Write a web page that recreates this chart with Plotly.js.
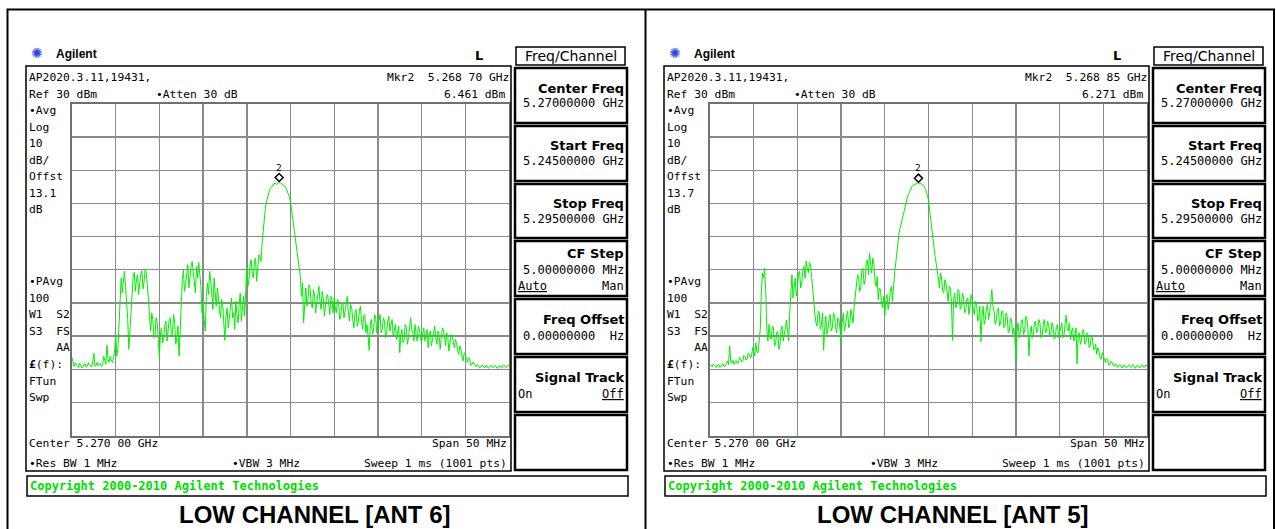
<!DOCTYPE html>
<html>
<head>
<meta charset="utf-8">
<script src="https://cdn.plot.ly/plotly-3.0.1.min.js"></script>
<style>html,body{margin:0;padding:0;background:#fff;}#chart{width:1276px;height:529px;}</style>
</head>
<body>
<div id="chart"></div>
<script>
// ---------- DATA ----------
const START_GHZ = 5.245;          // start frequency
const STOP_GHZ = 5.295;           // stop frequency
const STEP_MHZ = 0.125;           // sampling step of the read-off values
const REF_DBM = 30;               // reference level (top of screen)
const BOTTOM_DBM = -70;           // bottom of screen (10 dB/div, 10 div)

const panelTitles = ["LOW CHANNEL [ANT 6]", "LOW CHANNEL [ANT 5]"];
const offsets = ["13.1", "13.7"];
const markerFreqGHz = [5.26870, 5.26885];
const markerLevelDbm = [6.461, 6.271];
const markerFreqText = ["5.268\u00a070\u00a0GHz", "5.268\u00a085\u00a0GHz"];
const markerLevelText = ["6.461\u00a0dBm", "6.271\u00a0dBm"];

// ANT 6 trace, dBm, every 0.125 MHz from 5.245 GHz
const ant6_dBm = [
 -46.5,-48.3,-49.2,-48.1,-48.6,-49.0,-49.5,-48.2,-48.9,-49.6,-49.3,-48.5,-48.4,-49.4,-49.1,-48.0,-48.7,-49.2,-49.4,-47.8,
 -45.2,-49.1,-48.8,-47.9,-49.0,-48.4,-48.3,-49.2,-48.9,-46.0,-47.6,-48.5,-42.8,-47.0,-47.9,-46.1,-47.2,-48.0,-46.8,-44.5,
 -39.5,-46.0,-44.0,-36.0,-31.5,-22.5,-27.0,-24.0,-20.5,-25.0,-28.8,-35.0,-44.0,-38.0,-30.5,-25.5,-22.0,-20.8,-26.5,-23.0,
 -21.5,-27.5,-24.8,-21.0,-20.3,-25.8,-23.5,-19.8,-21.0,-24.0,-29.0,-34.0,-38.5,-33.0,-35.0,-40.5,-39.5,-34.5,-36.0,-41.0,
 -46.5,-39.0,-37.5,-42.0,-40.5,-36.5,-35.5,-41.5,-38.0,-35.0,-34.5,-40.0,-39.0,-33.5,-36.0,-42.5,-40.5,-37.0,-46.0,-39.0,
 -28.5,-23.0,-20.2,-26.5,-24.5,-20.0,-18.5,-25.5,-22.0,-18.8,-17.5,-21.5,-23.5,-27.0,-19.0,-22.5,-17.8,-21.0,-25.0,-33.0,
 -30.0,-35.0,-38.5,-28.0,-24.0,-27.5,-20.5,-23.5,-27.0,-32.0,-22.5,-26.0,-31.0,-25.5,-28.0,-32.5,-34.5,-29.0,-30.5,-36.5,
 -41.3,-34.0,-31.5,-37.5,-35.0,-31.0,-28.5,-34.5,-33.0,-38.0,-29.5,-33.5,-36.0,-30.5,-27.0,-35.5,-31.5,-28.0,-34.0,-26.0,
 -19.5,-25.0,-23.0,-18.5,-17.0,-21.5,-22.5,-17.5,-16.5,-23.5,-20.5,-15.5,-16.0,-17.5,-12.0,-8.0,-3.5,-1.5,0.5,2.0,
 3.2,4.2,4.8,5.0,5.6,5.8,6.2,5.7,5.9,6.3,6.46,6.1,6.0,5.6,5.5,5.2,4.6,3.9,2.8,1.8,
 0.5,-2.0,-4.5,-6.8,-9.0,-11.0,-13.5,-16.0,-18.5,-22.0,-28.0,-24.0,-36.0,-29.5,-25.5,-31.0,-29.0,-24.5,-26.0,-30.5,
 -31.5,-26.0,-27.5,-33.0,-30.0,-27.0,-25.0,-29.5,-32.0,-26.5,-28.5,-34.0,-31.0,-28.0,-27.5,-31.5,-33.5,-28.0,-29.0,-33.0,
 -28.5,-31.5,-33.0,-29.0,-29.5,-35.0,-34.0,-30.5,-30.0,-34.5,-32.5,-29.5,-28.0,-33.0,-35.5,-30.5,-31.5,-35.0,-37.5,-33.0,
 -32.0,-37.0,-36.0,-32.5,-31.0,-35.5,-38.0,-34.0,-33.5,-39.0,-36.5,-40.0,-44.3,-36.5,-35.0,-39.5,-38.5,-33.5,-34.5,-39.0,
 -37.5,-35.5,-33.5,-39.0,-38.0,-34.5,-35.5,-40.5,-39.0,-35.5,-34.0,-38.5,-37.0,-35.0,-40.0,-37.5,-36.5,-41.0,-39.5,-37.0,
 -45.0,-39.5,-38.0,-42.0,-41.0,-36.5,-37.5,-42.5,-40.5,-37.0,-34.5,-38.0,-39.0,-41.5,-36.5,-39.5,-41.5,-37.0,-38.0,-40.5,
 -42.0,-39.0,-37.5,-41.5,-40.0,-38.0,-43.5,-39.5,-38.5,-43.0,-41.0,-38.0,-37.0,-40.5,-42.5,-38.5,-39.5,-44.0,-41.0,-37.5,
 -38.0,-41.5,-43.0,-39.0,-40.5,-44.5,-42.0,-39.5,-40.0,-42.5,-43.5,-41.0,-42.0,-44.5,-45.5,-43.0,-44.0,-46.5,-47.5,-45.0,
 -45.5,-47.0,-48.0,-46.5,-47.0,-48.9,-48.6,-47.8,-48.2,-48.9,-49.3,-48.5,-48.8,-49.6,-49.4,-48.7,-49.0,-49.5,-49.6,-48.8,
 -49.1,-49.7,-49.5,-48.9,-48.9,-49.5,-49.4,-48.8,-49.2,-49.7,-49.6,-49.0,-49.0,-49.6,-49.4,-48.7,-48.9,-49.5,-49.3,-48.8,
 -49.1
];

// ANT 5 trace, dBm, every 0.125 MHz from 5.245 GHz
const ant5_dBm = [
 -48.5,-49.0,-49.3,-48.4,-48.8,-49.4,-49.5,-48.7,-48.6,-49.5,-49.2,-48.5,-48.4,-49.3,-49.0,-48.2,-47.5,-48.6,-43.0,-47.8,
 -48.2,-47.3,-48.6,-47.9,-47.4,-48.3,-48.0,-46.5,-46.8,-47.8,-47.5,-45.8,-46.2,-47.2,-46.9,-45.2,-45.5,-46.6,-46.0,-43.5,
 -44.5,-46.0,-42.0,-44.8,-45.0,-41.0,-38.0,-27.0,-21.0,-22.5,-19.6,-26.5,-38.0,-41.5,-36.5,-40.0,-41.0,-37.0,-37.5,-43.0,
 -42.5,-39.0,-38.5,-44.0,-43.0,-38.0,-37.0,-41.5,-40.0,-37.5,-35.2,-39.0,-41.5,-33.0,-25.0,-21.5,-28.5,-24.0,-22.5,-28.0,
 -26.0,-21.0,-20.5,-25.5,-24.0,-20.0,-19.0,-22.5,-17.4,-19.5,-21.0,-17.8,-18.5,-22.0,-26.5,-30.0,-33.4,-36.0,-37.0,-32.5,
 -33.0,-38.0,-36.5,-33.0,-44.3,-37.5,-34.0,-39.5,-38.0,-34.5,-33.5,-38.5,-37.5,-33.0,-34.0,-37.5,-39.0,-34.5,-35.0,-38.0,
 -42.0,-36.0,-33.0,-38.5,-37.0,-34.0,-32.5,-37.5,-36.5,-32.0,-33.5,-36.0,-31.0,-27.5,-26.0,-21.5,-22.0,-26.5,-25.5,-20.0,
 -19.5,-24.5,-23.0,-18.0,-17.0,-21.5,-15.0,-19.0,-21.0,-16.5,-18.5,-23.5,-25.0,-22.0,-29.0,-25.5,-26.0,-30.0,-31.5,-28.0,
 -33.9,-29.0,-27.5,-32.0,-30.0,-26.5,-25.0,-29.5,-24.0,-21.0,-18.0,-14.5,-11.0,-9.0,-7.5,-6.0,-5.0,-3.2,-1.5,0.0,
 1.5,2.3,3.0,3.8,4.5,5.1,5.5,5.6,5.9,6.0,6.1,5.8,6.27,6.0,5.7,5.5,5.2,4.5,3.6,2.4,
 1.0,-2.0,-5.0,-8.0,-11.5,-14.0,-16.0,-18.0,-20.0,-22.5,-25.5,-21.0,-22.5,-26.5,-27.0,-23.0,-24.0,-28.0,-29.5,-25.0,
 -25.5,-30.0,-41.3,-29.0,-27.0,-31.5,-30.5,-26.0,-26.5,-32.0,-31.0,-27.0,-28.0,-33.0,-32.5,-29.0,-28.5,-33.5,-31.5,-27.5,
 -29.0,-32.0,-33.5,-29.5,-30.0,-35.5,-34.5,-31.0,-41.7,-34.0,-31.0,-36.5,-35.0,-31.5,-30.5,-35.0,-33.0,-29.5,-26.0,-31.0,
 -32.5,-36.5,-35.5,-32.0,-31.5,-37.0,-36.0,-32.5,-32.5,-37.5,-37.0,-33.0,-34.0,-39.0,-38.5,-34.5,-35.0,-39.5,-37.5,-40.0,
 -47.7,-38.5,-36.0,-40.5,-39.0,-35.5,-35.0,-39.5,-38.5,-34.0,-34.5,-38.0,-46.0,-39.0,-37.0,-40.5,-39.5,-36.0,-35.5,-39.0,
 -38.0,-35.0,-36.0,-40.5,-40.0,-36.5,-35.0,-39.0,-38.5,-35.5,-36.5,-40.0,-39.5,-36.0,-37.0,-41.0,-40.5,-37.5,-36.5,-40.5,
 -39.0,-37.0,-36.0,-40.5,-40.0,-36.5,-33.7,-38.0,-38.5,-36.0,-41.0,-38.5,-37.5,-41.5,-40.5,-37.5,-48.4,-40.0,-39.0,-42.5,
 -41.5,-38.5,-38.0,-42.5,-42.0,-39.0,-39.5,-43.5,-43.0,-40.0,-40.5,-44.0,-44.0,-42.5,-45.5,-43.5,-44.5,-46.5,-47.0,-45.0,
 -46.0,-47.5,-48.0,-46.8,-47.2,-48.8,-48.5,-47.6,-48.0,-48.9,-49.2,-48.4,-48.6,-49.5,-49.3,-48.6,-48.8,-49.6,-49.5,-48.7,
 -49.0,-49.6,-49.4,-48.8,-48.7,-49.5,-49.3,-48.6,-49.0,-49.7,-49.5,-48.9,-48.9,-49.6,-49.4,-48.7,-48.8,-49.5,-49.3,-48.7,
 -49.0
];

// ---------- LAYOUT HELPERS ----------
const W = 1276, H = 529;
const PX = x => x / W;
const PY = y => 1 - y / H;
const DX = [0, 638];                 // horizontal offset of each panel
const GRID = {x0: 72, x1: 509, y0: 104, y1: 435.5};
const MONO = "DejaVu Sans Mono";
const SANS = "DejaVu Sans";

const freqGHz = ant6_dBm.map((_, i) => START_GHZ + i * STEP_MHZ / 1000);
const series = [ant6_dBm, ant5_dBm];

const traces = [];
const shapes = [];
const annotations = [];

function rect(x0, y0, x1, y1, w, col) {
  shapes.push({type: 'rect', xref: 'paper', yref: 'paper', x0: PX(x0), x1: PX(x1), y0: PY(y1), y1: PY(y0),
    line: {color: col || '#000', width: w}, fillcolor: 'rgba(0,0,0,0)', layer: 'above'});
}
function line(x0, y0, x1, y1, w, col) {
  shapes.push({type: 'line', xref: 'paper', yref: 'paper', x0: PX(x0), x1: PX(x1), y0: PY(y0), y1: PY(y1),
    line: {color: col || '#000', width: w}, layer: 'above'});
}
function txt(x, y, text, o) {
  o = o || {};
  annotations.push({xref: 'paper', yref: 'paper', x: PX(x), y: PY(y), text: text, showarrow: false,
    xanchor: o.anchor || 'left', yanchor: 'middle', borderpad: 0,
    font: {family: o.family || MONO, size: o.size || 11.3, color: o.color || '#000', weight: o.weight || 'normal'}});
}

const layout = {
  width: W, height: H, margin: {l: 0, r: 0, t: 0, b: 0},
  paper_bgcolor: '#fff', plot_bgcolor: '#fff', showlegend: false,
  shapes: shapes, annotations: annotations
};

// outer frame + divider
rect(7.5, 9.5, 1274, 545, 2);
line(645.5, 9.5, 645.5, 529, 2);

const sp = '\u00a0';
for (let p = 0; p < 2; p++) {
  const dx = DX[p];
  const xa = p === 0 ? 'xaxis' : 'xaxis2';
  const ya = p === 0 ? 'yaxis' : 'yaxis2';
  const xr = p === 0 ? 'x' : 'x2';
  const yr = p === 0 ? 'y' : 'y2';
  layout[xa] = {domain: [PX(GRID.x0 + dx), PX(GRID.x1 + dx)], anchor: yr,
    range: [START_GHZ, STOP_GHZ], tick0: START_GHZ, dtick: 0.005, showticklabels: false, ticks: '',
    showgrid: true, gridcolor: '#8a8a8a', gridwidth: 1.4, zeroline: false,
    showline: true, mirror: true, linecolor: '#707070', linewidth: 2, fixedrange: true};
  layout[ya] = {domain: [PY(GRID.y1), PY(GRID.y0)], anchor: xr,
    range: [BOTTOM_DBM, REF_DBM], tick0: BOTTOM_DBM, dtick: 10, showticklabels: false, ticks: '',
    showgrid: true, gridcolor: '#8a8a8a', gridwidth: 1.4, zeroline: false,
    showline: true, mirror: true, linecolor: '#707070', linewidth: 2, fixedrange: true};

  traces.push({x: freqGHz, y: series[p], xaxis: xr, yaxis: yr, type: 'scatter', mode: 'lines',
    line: {color: '#00ee00', width: 1}, hoverinfo: 'skip'});

  // marker diamond (drawn just above the trace point) and its number
  shapes.push({type: 'path', xref: xr, yref: yr, xsizemode: 'pixel', ysizemode: 'pixel',
    xanchor: markerFreqGHz[p], yanchor: markerLevelDbm[p],
    path: 'M0,0.5 L4,4.5 L0,8.5 L-4,4.5 Z', line: {color: '#000', width: 1.5}, fillcolor: '#fff', layer: 'above'});
  annotations.push({xref: xr, yref: yr, x: markerFreqGHz[p], y: markerLevelDbm[p], yshift: 15,
    text: '2', showarrow: false, font: {family: MONO, size: 9.5, color: '#000'}});

  // boxes
  rect(26 + dx, 66, 511 + dx, 471, 1.5);
  rect(516 + dx, 47, 625 + dx, 65, 1.5);
  [[68,123],[126,181],[184,238],[241,296],[299,354],[357,412],[415,470]].forEach(b => rect(515 + dx, b[0], 627 + dx, b[1], 2.5));
  rect(27 + dx, 476, 628 + dx, 496, 1.5);

  // header
  txt(37 + dx, 53, '\u273a', {family: SANS, size: 14, color: '#3347d8', anchor: 'center'});
  txt(55 + dx, 54, 'Agilent', {family: 'Liberation Sans', size: 12, weight: 'bold'});
  txt(479 + dx, 55, 'L', {family: SANS, size: 13, weight: 'bold', anchor: 'center'});

  // screen text
  txt(28 + dx, 77, 'AP2020.3.11,19431,');
  txt(28 + dx, 94, 'Ref' + sp + '30' + sp + 'dBm');
  txt(155 + dx, 94, '\u2022Atten' + sp + '30' + sp + 'dB');
  txt(510 + dx, 77, 'Mkr2' + sp + sp + markerFreqText[p], {anchor: 'right'});
  txt(506 + dx, 94, markerLevelText[p], {anchor: 'right'});
  const colA = ['\u2022Avg', 'Log', '10', 'dB/', 'Offst', offsets[p], 'dB'];
  colA.forEach((t, i) => txt(28 + dx, 110.5 + i * 16.55, t));
  const colB = ['\u2022PAvg', '100', 'W1' + sp + sp + 'S2', 'S3' + sp + sp + 'FS', sp + sp + sp + sp + 'AA', '<b>\u00a3</b>(f):', 'FTun', 'Swp'];
  colB.forEach((t, i) => txt(28 + dx, 281.5 + i * 16.6, t));
  txt(28 + dx, 443, 'Center' + sp + '5.270' + sp + '00' + sp + 'GHz');
  txt(508 + dx, 443, 'Span' + sp + '50' + sp + 'MHz', {anchor: 'right'});
  txt(28 + dx, 463, '\u2022Res' + sp + 'BW' + sp + '1' + sp + 'MHz');
  txt(231 + dx, 463, '\u2022VBW' + sp + '3' + sp + 'MHz');
  txt(508 + dx, 463, 'Sweep' + sp + '1' + sp + 'ms' + sp + '(1001' + sp + 'pts)', {anchor: 'right'});
  txt(29 + dx, 486, 'Copyright 2000-2010 Agilent Technologies', {size: 12, color: '#00dd00', weight: 'bold'});

  // softkeys
  txt(570.5 + dx, 55.5, 'Freq/Channel', {family: SANS, size: 14, anchor: 'center'});
  const sk = [
    ['Center' + sp + 'Freq', 88, '5.27000000' + sp + 'GHz', 103],
    ['Start' + sp + 'Freq', 146, '5.24500000' + sp + 'GHz', 161],
    ['Stop' + sp + 'Freq', 203.5, '5.29500000' + sp + 'GHz', 219],
    ['CF' + sp + 'Step', 253.5, '5.00000000' + sp + 'MHz', 270],
    ['Freq' + sp + 'Offset', 319.5, '0.00000000' + sp + sp + 'Hz', 336],
    ['Signal' + sp + 'Track', 377, '', 0]
  ];
  sk.forEach(s => {
    txt(625 + dx, s[1], s[0], {family: SANS, size: 13, weight: 'bold', anchor: 'right'});
    if (s[2]) txt(625 + dx, s[3], s[2], {size: 12, anchor: 'right'});
  });
  txt(517 + dx, 286, '<u>Auto</u>', {size: 12});
  txt(625 + dx, 286, 'Man', {size: 12, anchor: 'right'});
  txt(517 + dx, 394, 'On', {size: 12});
  txt(625 + dx, 394, '<u>Off</u>', {size: 12, anchor: 'right'});

  // caption
  txt(315 + dx, 514, panelTitles[p], {family: 'Liberation Sans', size: 24, weight: 'bold', anchor: 'center'});
}

Plotly.newPlot('chart', traces, layout, {staticPlot: true, displayModeBar: false});
</script>
</body>
</html>
